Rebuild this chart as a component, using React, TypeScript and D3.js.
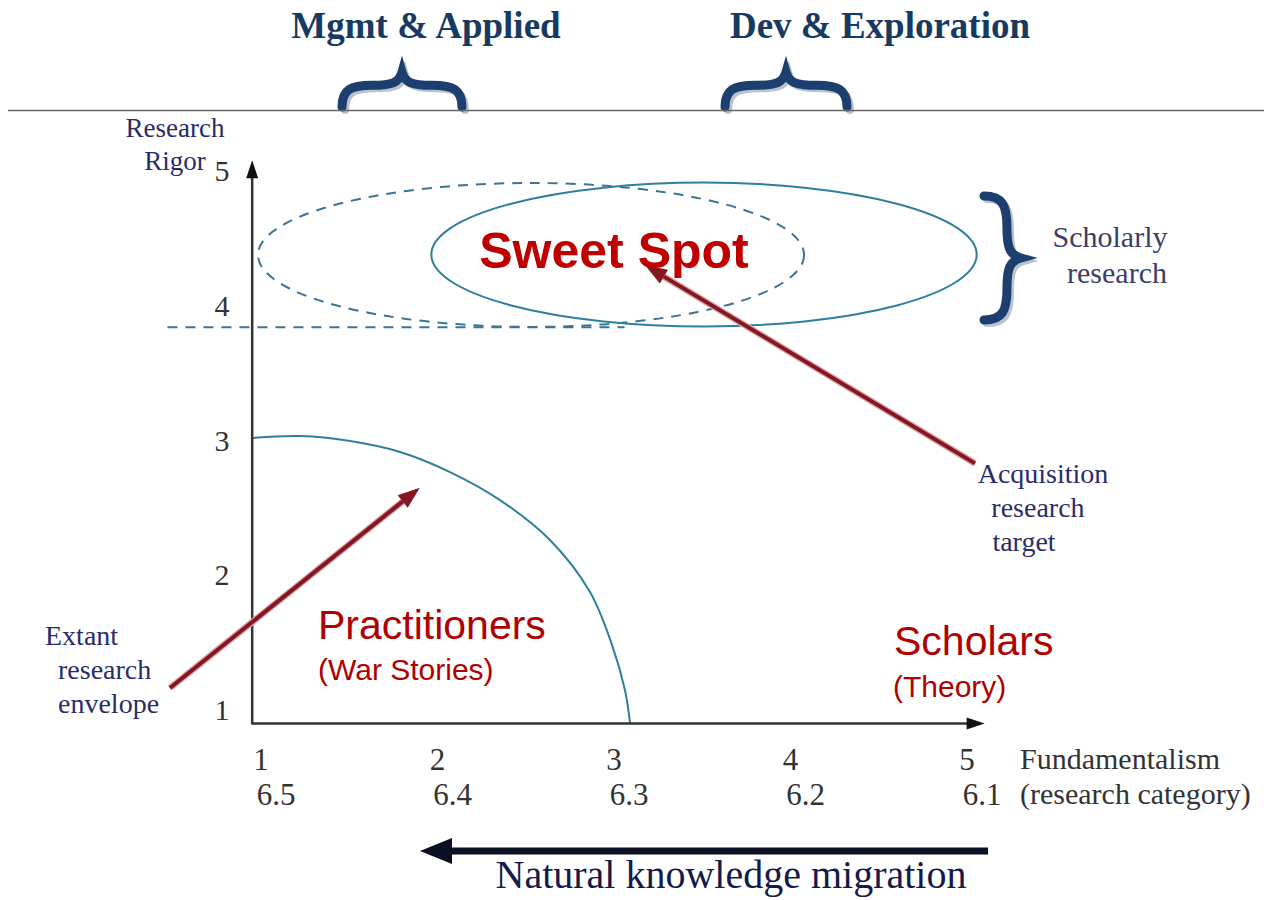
import * as d3 from "d3";

// axis tick labels
const xTicks = [1, 2, 3, 4, 5];
const xSubLabels = ["6.5", "6.4", "6.3", "6.2", "6.1"];
const yTicks = [1, 2, 3, 4, 5];

// regions, in data units (fundamentalism, rigor)
const dashedEllipse = { cx: 2.53, cy: 4.377, rx: 1.547, ry: 0.534 };
const sweetSpotEllipse = { cx: 3.51, cy: 4.38, rx: 1.545, ry: 0.534 };
const scholarlyLine = { x0: 0.47, x1: 3.06, y: 3.84 };

// extant research envelope
const envelopeX = [0.949, 1.221, 1.504, 1.788, 2.071, 2.354, 2.637, 2.864, 2.989, 3.062, 3.091];
const envelopeY = [3.019, 3.033, 2.996, 2.915, 2.766, 2.558, 2.262, 1.876, 1.482, 1.148, 0.904];

// annotation arrows [from, to] in data units
const extantArrow = [[0.484, 1.163], [1.9, 2.65]];
const targetArrow = [[5.045, 2.83], [3.176, 4.3]];

const xAxisExtent = [0.95, 5.1];
const yAxisExtent = [0.9, 5.08];

const W = 1264;
const H = 900;
const x = d3.scaleLinear().domain([1, 5]).range([261, 967]);
const y = d3.scaleLinear().domain([1, 5]).range([710, 171]);

const SERIF = "'Liberation Serif', 'Times New Roman', serif";
const SANS = "'Liberation Sans', Arial, sans-serif";
const NAVY = "#2a2c6a";
const RED = "#c00000";
const TEAL = "#2f7f9f";
const BRACE = "#1d3f70";

function bracePath(cx: number, cy: number, L: number, D: number, dir: "up" | "right") {
  const pts: [number, number][] = [
    [-L, 0], [-L, 0.5 * D], [-0.85 * L, 0.62 * D], [-0.5 * L, 0.62 * D],
    [-0.15 * L, 0.62 * D], [-0.05 * L, 0.7 * D], [0, D],
    [0.05 * L, 0.7 * D], [0.15 * L, 0.62 * D], [0.5 * L, 0.62 * D],
    [0.85 * L, 0.62 * D], [L, 0.5 * D], [L, 0],
  ];
  const m = pts.map(([u, v]) => (dir === "up" ? [cx + u, cy - v] : [cx + v, cy + u]));
  let d = `M${m[0][0]},${m[0][1]}`;
  for (let i = 1; i < m.length; i += 3) {
    d += ` C${m[i][0]},${m[i][1]} ${m[i + 1][0]},${m[i + 1][1]} ${m[i + 2][0]},${m[i + 2][1]}`;
  }
  return d;
}

function Brace({ cx, cy, L, D, dir }: { cx: number; cy: number; L: number; D: number; dir: "up" | "right" }) {
  const d = bracePath(cx, cy, L, D, dir);
  return (
    <g>
      <path d={d} transform="translate(3,3)" fill="none" stroke="#b9c2cf" strokeWidth={8} strokeLinecap="round" />
      <path d={d} fill="none" stroke={BRACE} strokeWidth={9} strokeLinecap="round" />
    </g>
  );
}

function RedArrow({ pts }: { pts: number[][] }) {
  const [x0, y0] = [x(pts[0][0]), y(pts[0][1])];
  const [x1, y1] = [x(pts[1][0]), y(pts[1][1])];
  const ang = Math.atan2(y1 - y0, x1 - x0);
  const len = 22;
  const hw = 8;
  const bx = x1 - len * Math.cos(ang);
  const by = y1 - len * Math.sin(ang);
  const px = -Math.sin(ang) * hw;
  const py = Math.cos(ang) * hw;
  return (
    <g>
      <line x1={x0} y1={y0} x2={bx} y2={by} stroke="#d9a0a4" strokeWidth={6.5} />
      <line x1={x0} y1={y0} x2={bx} y2={by} stroke="#861622" strokeWidth={4} />
      <polygon points={`${x1},${y1} ${bx + px},${by + py} ${bx - px},${by - py}`} fill="#861622" />
    </g>
  );
}

export default function App() {
  const envelope = d3
    .line<number>()
    .x((_, i) => x(envelopeX[i]))
    .y((d) => y(d))
    .curve(d3.curveCatmullRom)(envelopeY) as string;

  const ax0 = x(xAxisExtent[0]);
  const ax1 = x(xAxisExtent[1]);
  const ay0 = y(yAxisExtent[0]);
  const ay1 = y(yAxisExtent[1]);

  return (
    <svg width={W} height={H} style={{ display: "block", position: "absolute", left: 0, top: 0, background: "#fff" }}>
      {/* top categories */}
      <text x={426} y={38} textAnchor="middle" fontFamily={SERIF} fontWeight={700} fontSize={37} fill="#173a63">
        Mgmt &amp; Applied
      </text>
      <text x={880} y={38} textAnchor="middle" fontFamily={SERIF} fontWeight={700} fontSize={37} fill="#173a63">
        Dev &amp; Exploration
      </text>
      <Brace cx={402} cy={107} L={60} D={35} dir="up" />
      <Brace cx={786} cy={107} L={61} D={35} dir="up" />
      <line x1={8} x2={W} y1={110.5} y2={110.5} stroke="#666" strokeWidth={1.5} />

      {/* regions */}
      <line
        x1={x(scholarlyLine.x0)} x2={x(scholarlyLine.x1)} y1={y(scholarlyLine.y)} y2={y(scholarlyLine.y)}
        stroke="#3b7594" strokeWidth={2} strokeDasharray="10,8"
      />
      <ellipse
        cx={x(dashedEllipse.cx)} cy={y(dashedEllipse.cy)}
        rx={x(dashedEllipse.cx + dashedEllipse.rx) - x(dashedEllipse.cx)}
        ry={y(dashedEllipse.cy - dashedEllipse.ry) - y(dashedEllipse.cy)}
        fill="none" stroke="#3b7594" strokeWidth={2} strokeDasharray="10,8"
      />
      <ellipse
        cx={x(sweetSpotEllipse.cx)} cy={y(sweetSpotEllipse.cy)}
        rx={x(sweetSpotEllipse.cx + sweetSpotEllipse.rx) - x(sweetSpotEllipse.cx)}
        ry={y(sweetSpotEllipse.cy - sweetSpotEllipse.ry) - y(sweetSpotEllipse.cy)}
        fill="none" stroke={TEAL} strokeWidth={2}
      />
      <path d={envelope} fill="none" stroke={TEAL} strokeWidth={2} />

      {/* axes */}
      <line x1={ax0} x2={ax1 - 14} y1={ay0} y2={ay0} stroke="#333" strokeWidth={2.5} />
      <polygon points={`${ax1},${ay0} ${ax1 - 18},${ay0 - 6} ${ax1 - 18},${ay0 + 6}`} fill="#111" />
      <line x1={ax0} x2={ax0} y1={ay0 + 1} y2={ay1 + 14} stroke="#333" strokeWidth={2.5} />
      <polygon points={`${ax0},${ay1} ${ax0 - 6},${ay1 + 18} ${ax0 + 6},${ay1 + 18}`} fill="#111" />

      {yTicks.map((t) => (
        <text key={t} x={222} y={y(t) + 10} textAnchor="middle" fontFamily={SERIF} fontSize={30} fill="#333">
          {t}
        </text>
      ))}
      {xTicks.map((t, i) => (
        <g key={t}>
          <text x={x(t)} y={770} textAnchor="middle" fontFamily={SERIF} fontSize={31} fill="#333">
            {t}
          </text>
          <text x={x(t) + 15} y={805} textAnchor="middle" fontFamily={SERIF} fontSize={31} fill="#333">
            {xSubLabels[i]}
          </text>
        </g>
      ))}
      <text x={1020} y={769} fontFamily={SERIF} fontSize={30} fill="#333">Fundamentalism</text>
      <text x={1020} y={804} fontFamily={SERIF} fontSize={30} fill="#333">(research category)</text>

      <text x={175} y={137} textAnchor="middle" fontFamily={SERIF} fontSize={27} fill={NAVY}>Research</text>
      <text x={175} y={170} textAnchor="middle" fontFamily={SERIF} fontSize={27} fill={NAVY}>Rigor</text>

      {/* scholarly research brace */}
      <Brace cx={984} cy={258} L={62} D={37} dir="right" />
      <text x={1110} y={247} textAnchor="middle" fontFamily={SERIF} fontSize={30} fill="#3a3f6a">Scholarly</text>
      <text x={1117} y={283} textAnchor="middle" fontFamily={SERIF} fontSize={30} fill="#3a3f6a">research</text>

      {/* annotations */}
      <RedArrow pts={extantArrow} />
      <RedArrow pts={targetArrow} />

      <text x={614} y={268} textAnchor="middle" fontFamily={SANS} fontWeight={700} fontSize={50} fill={RED}>
        Sweet Spot
      </text>

      <text x={1043} y={483} textAnchor="middle" fontFamily={SERIF} fontSize={28} fill={NAVY}>Acquisition</text>
      <text x={1038} y={517} textAnchor="middle" fontFamily={SERIF} fontSize={28} fill={NAVY}>research</text>
      <text x={1024} y={551} textAnchor="middle" fontFamily={SERIF} fontSize={28} fill={NAVY}>target</text>

      <text x={45} y={645} fontFamily={SERIF} fontSize={28} fill={NAVY}>Extant</text>
      <text x={58} y={679} fontFamily={SERIF} fontSize={28} fill={NAVY}>research</text>
      <text x={58} y={713} fontFamily={SERIF} fontSize={28} fill={NAVY}>envelope</text>

      <text x={318} y={639} fontFamily={SANS} fontSize={41} fill="#b00000">Practitioners</text>
      <text x={318} y={680} fontFamily={SANS} fontSize={30} fill="#b00000">(War Stories)</text>
      <text x={894} y={655} fontFamily={SANS} fontSize={41} fill="#b00000">Scholars</text>
      <text x={893} y={697} fontFamily={SANS} fontSize={30} fill="#b00000">(Theory)</text>

      {/* migration arrow */}
      <line x1={988} x2={446} y1={851} y2={851} stroke="#0a0f22" strokeWidth={7} />
      <polygon points="420,851 452,838 452,864" fill="#0a0f22" />
      <text x={731} y={888} textAnchor="middle" fontFamily={SERIF} fontSize={40} fill="#151a4a">
        Natural knowledge migration
      </text>
    </svg>
  );
}
